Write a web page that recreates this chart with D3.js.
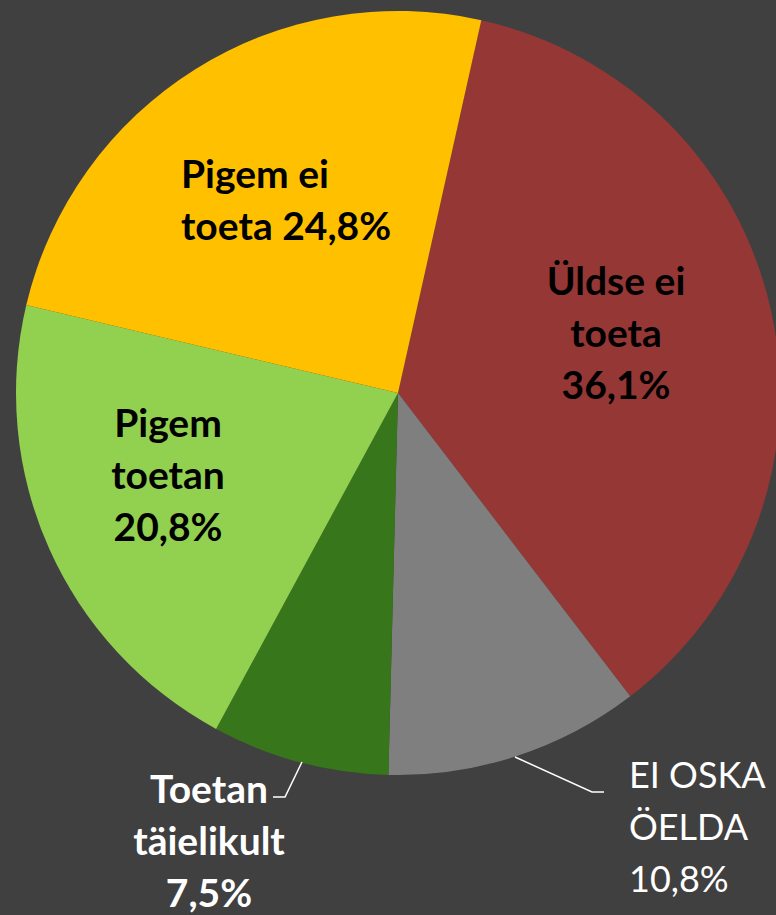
<!DOCTYPE html>
<html><head><meta charset="utf-8">
<script src="https://cdn.jsdelivr.net/npm/d3@7"></script>
<style>html,body{margin:0;padding:0;background:#404040;}svg{display:block;}</style>
</head><body>
<script>
const categories = ["Üldse ei toeta", "EI OSKA ÖELDA", "Toetan täielikult", "Pigem toetan", "Pigem ei toeta"];
const values = [36.1, 10.8, 7.5, 20.8, 24.8];
const labelLines = [["Üldse ei", "toeta", "36,1%"], ["EI OSKA", "ÖELDA", "10,8%"], ["Toetan", "täielikult", "7,5%"], ["Pigem", "toetan", "20,8%"], ["Pigem ei", "toeta 24,8%"]];
const colors = ["#953735", "#7F7F7F", "#37761A", "#92D050", "#FFC000"];

const W = 776, H = 915, cx = 398, cy = 393, R = 382;
const startDeg = 12.6;

const svg = d3.select("body").append("svg").attr("width", W).attr("height", H);
svg.append("rect").attr("width", W).attr("height", H).attr("fill", "#404040");

const pie = d3.pie().sort(null).value(d => d)
  .startAngle(startDeg * Math.PI / 180).endAngle(startDeg * Math.PI / 180 + 2 * Math.PI);
const arc = d3.arc().innerRadius(0).outerRadius(R);
const arcs = pie(values);

const g = svg.append("g").attr("transform", `translate(${cx},${cy})`);
g.selectAll("path").data(arcs).enter().append("path")
  .attr("d", arc).attr("fill", (d, i) => colors[i]);

// label layout (positions in page pixels)
const layout = [
  {x: 616, y: 295, anchor: "middle", fill: "#000", weight: "bold", size: 39},
  {x: 629, y: 788, anchor: "start", fill: "#fff", weight: "normal", size: 36},
  {x: 209, y: 803, anchor: "middle", fill: "#fff", weight: "bold", size: 39},
  {x: 168, y: 437, anchor: "middle", fill: "#000", weight: "bold", size: 39},
  {x: 181, y: 188, anchor: "start", fill: "#000", weight: "bold", size: 39}
];
const lh = 52;
layout.forEach((L, i) => {
  const t = svg.append("text").attr("x", L.x).attr("y", L.y)
    .attr("text-anchor", L.anchor).attr("fill", L.fill)
    .attr("font-family", "Lato, 'Open Sans', sans-serif")
    .attr("font-weight", L.weight).attr("font-size", L.size);
  labelLines[i].forEach((line, k) => {
    t.append("tspan").attr("x", L.x).attr("y", L.y + k * lh).text(line);
  });
});

// leader lines
const leaders = [
  [[515, 757], [592, 792], [604, 792]],
  [[302, 762], [285, 797], [273, 797]]
];
leaders.forEach(pts => {
  svg.append("polyline").attr("points", pts.map(p => p.join(",")).join(" "))
    .attr("fill", "none").attr("stroke", "#fff").attr("stroke-width", 1.5);
});
</script>
</body></html>
